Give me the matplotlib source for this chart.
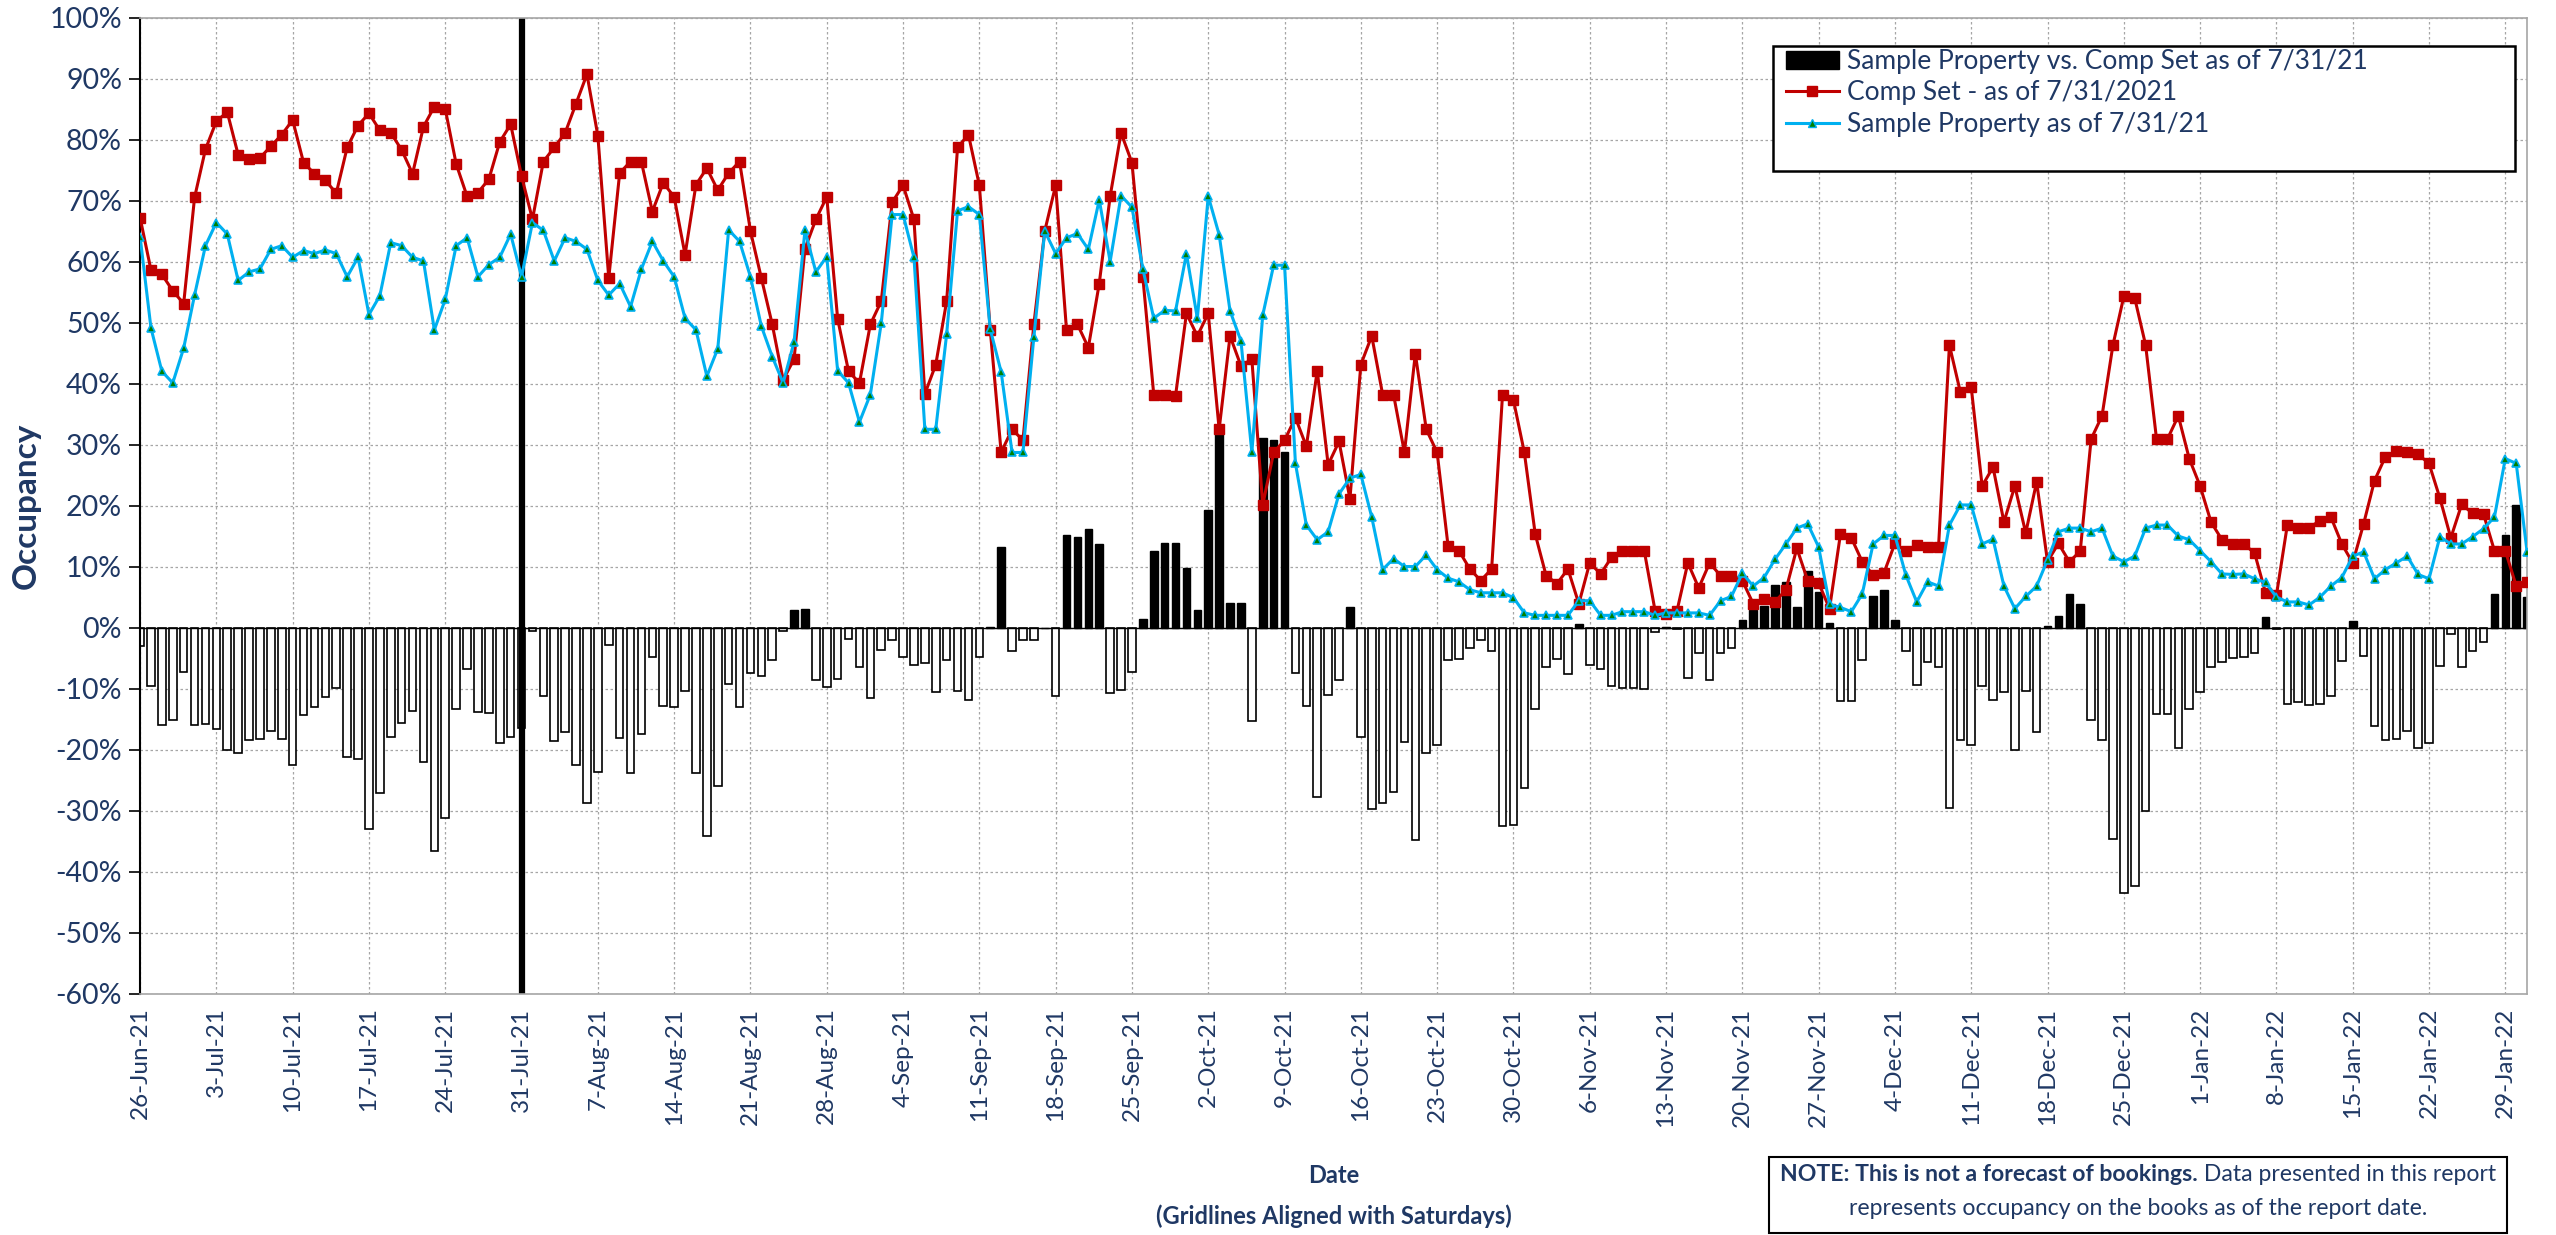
import numpy as np
import pandas as pd
import matplotlib
matplotlib.use("Agg")
import matplotlib.pyplot as plt
import matplotlib.dates as mdates
from matplotlib.patches import Patch, Rectangle
from matplotlib.lines import Line2D

plt.rcParams['font.family'] = ['Lato', 'DejaVu Sans']

# Dates (one point per day)
dates = pd.date_range('2021-06-26', '2022-01-31', freq='D')

# Comp Set occupancy (%)
comp_set = [
    67.2, 58.6, 57.9, 55.2, 53.1,
    # Jul
    70.5, 78.4, 83.0, 84.5, 77.5, 76.8, 77.0, 78.9, 80.8, 83.2, 76.2, 74.4, 73.3, 71.2, 78.7, 82.3,
    84.3, 81.5, 81.1, 78.3, 74.4, 82.1, 85.4, 85.0, 76.0, 70.7, 71.3, 73.5, 79.6, 82.5, 74.0,
    # Aug
    66.9, 76.4, 78.7, 81.1, 85.9, 90.7, 80.6, 57.3, 74.5, 76.4, 76.3, 68.2, 72.9, 70.6, 61.1, 72.6,
    75.3, 71.7, 74.5, 76.4, 65.0, 57.3, 49.7, 40.6, 44.0, 62.1, 66.9, 70.6, 50.6, 42.0, 40.1,
    # Sep
    49.7, 53.5, 69.7, 72.5, 66.9, 38.3, 43.1, 53.5, 78.7, 80.8, 72.5, 48.8, 28.7, 32.5, 30.7, 49.7,
    65.0, 72.5, 48.7, 49.7, 45.9, 56.4, 70.7, 81.1, 76.2, 57.4, 38.2, 38.2, 38.0, 51.5,
    # Oct
    47.8, 51.5, 32.5, 47.8, 42.9, 44.0, 20.1, 28.7, 30.7, 34.4, 29.7, 42.1, 26.7, 30.5, 21.1, 43.1,
    47.8, 38.2, 38.2, 28.7, 44.9, 32.5, 28.7, 13.4, 12.6, 9.6, 7.7, 9.6, 38.2, 37.3, 28.7,
    # Nov
    15.3, 8.5, 7.2, 9.6, 3.9, 10.6, 8.8, 11.5, 12.5, 12.5, 12.6, 2.7, 2.3, 2.7, 10.6, 6.5,
    10.6, 8.5, 8.5, 7.7, 3.9, 4.6, 4.2, 6.2, 13.0, 7.7, 7.3, 3.1, 15.3, 14.7,
    # Dec
    10.8, 8.6, 9.0, 13.8, 12.5, 13.6, 13.2, 13.2, 46.3, 38.6, 39.4, 23.2, 26.3, 17.3, 23.2, 15.5,
    23.9, 10.8, 13.8, 10.8, 12.5, 30.9, 34.7, 46.3, 54.3, 54.0, 46.3, 30.9, 30.9, 34.7, 27.7,
    # Jan
    23.2, 17.3, 14.4, 13.7, 13.7, 12.2, 5.7, 5.3, 16.8, 16.4, 16.4, 17.5, 18.1, 13.7, 10.6, 17.0,
    24.1, 28.0, 28.9, 28.7, 28.4, 26.9, 21.2, 14.7, 20.2, 18.7, 18.6, 12.6, 12.6, 6.8, 7.4,
]

# Sample Property occupancy (%)
sample_prop = [
    64.1, 49.1, 42.0, 40.1, 45.8,
    # Jul
    54.5, 62.6, 66.4, 64.5, 56.9, 58.3, 58.8, 62.0, 62.6, 60.7, 61.8, 61.3, 61.9, 61.3, 57.5, 60.7,
    51.3, 54.4, 63.1, 62.6, 60.7, 60.1, 48.8, 53.8, 62.6, 63.9, 57.5, 59.5, 60.7, 64.5, 57.5,
    # Aug
    66.4, 65.1, 60.1, 63.9, 63.3, 62.0, 56.9, 54.5, 56.4, 52.6, 58.8, 63.3, 60.1, 57.5, 50.7, 48.8,
    41.2, 45.7, 65.2, 63.3, 57.5, 49.4, 44.4, 40.1, 46.8, 65.1, 58.3, 60.8, 42.1, 40.1, 33.7,
    # Sep
    38.2, 49.9, 67.7, 67.7, 60.7, 32.5, 32.5, 48.1, 68.3, 69.0, 67.7, 48.9, 41.9, 28.7, 28.7, 47.6,
    65.0, 61.3, 63.9, 64.6, 62.0, 70.1, 60.0, 70.8, 68.9, 58.8, 50.7, 52.0, 51.9, 61.3,
    # Oct
    50.7, 70.7, 64.4, 51.9, 47.0, 28.7, 51.2, 59.4, 59.4, 26.9, 16.8, 14.4, 15.7, 21.9, 24.5, 25.1,
    18.1, 9.5, 11.3, 10.0, 10.0, 11.9, 9.5, 8.1, 7.5, 6.2, 5.7, 5.7, 5.7, 4.9, 2.4,
    # Nov
    2.0, 2.0, 2.0, 2.0, 4.4, 4.4, 2.0, 2.0, 2.6, 2.6, 2.6, 2.0, 2.4, 2.4, 2.4, 2.4,
    2.0, 4.4, 5.1, 8.9, 6.8, 8.2, 11.2, 13.7, 16.3, 17.0, 13.2, 3.8, 3.3, 2.6,
    # Dec
    5.5, 13.7, 15.1, 15.1, 8.6, 4.2, 7.5, 6.8, 16.8, 20.1, 20.1, 13.7, 14.5, 6.8, 3.1, 5.1,
    6.8, 11.1, 15.7, 16.3, 16.3, 15.7, 16.3, 11.7, 10.8, 11.7, 16.3, 16.8, 16.8, 15.0, 14.4,
    # Jan
    12.6, 10.8, 8.8, 8.7, 8.8, 8.0, 7.4, 5.0, 4.2, 4.2, 3.7, 5.0, 6.8, 8.2, 11.7, 12.4,
    8.0, 9.5, 10.6, 11.7, 8.7, 8.0, 14.9, 13.7, 13.7, 14.9, 16.2, 18.1, 27.7, 26.9, 12.4,
]

# bars = sample property minus comp set
diff = np.array(sample_prop) - np.array(comp_set)

report_date = pd.Timestamp('2021-07-31')

navy = '#1F3864'
red = '#C00000'
cyan = '#00B0F0'

fig = plt.figure(figsize=(25.56, 12.35), dpi=100)
ax = fig.add_axes([0.0548, 0.1955, 0.9339, 0.7903])

pos = diff >= 0
ax.bar(dates[pos], diff[pos], width=0.7, color='black', edgecolor='black', linewidth=1, zorder=2)
ax.bar(dates[~pos], diff[~pos], width=0.7, color='white', edgecolor='black', linewidth=1.2, zorder=2)
ax.axhline(0, color='black', lw=1, zorder=2.1)
ax.axvline(report_date, color='black', lw=4.5, zorder=2.5)

ax.plot(dates, comp_set, color=red, lw=2.2, marker='s', markersize=6.5,
        markerfacecolor=red, markeredgecolor=red, zorder=3)
ax.plot(dates, sample_prop, color=cyan, lw=2.2, marker='^', markersize=6,
        markerfacecolor='#008000', markeredgecolor=cyan, markeredgewidth=1.2, zorder=4)

ax.set_ylim(-60, 100)
ax.set_yticks(np.arange(-60, 101, 10))
ax.set_yticklabels([f'{v}%' for v in range(-60, 101, 10)], color=navy, fontsize=20.5)
ax.set_xlim(dates[0], dates[-1])
ax.xaxis.set_major_locator(mdates.WeekdayLocator(byweekday=mdates.SA))
ax.xaxis.set_major_formatter(mdates.DateFormatter('%-d-%b-%y'))
plt.setp(ax.get_xticklabels(), rotation=90, color=navy, fontsize=17.5)
ax.tick_params(axis='x', length=0, pad=10)
ax.tick_params(axis='y', length=8, width=1.2, direction='out', pad=5)

ax.grid(True, color='#A6A6A6', linestyle=(0, (2, 2)), lw=0.9, zorder=0)
ax.set_axisbelow(True)
for s in ['top', 'right', 'bottom']:
    ax.spines[s].set_color('#A6A6A6')
    ax.spines[s].set_linewidth(1.2)
ax.spines['left'].set_color('black')
ax.spines['left'].set_linewidth(1.5)

ax.set_ylabel('Occupancy', color=navy, fontsize=24, fontweight='bold', labelpad=6)
fig.text(0.5217, 0.0316, 'Date\n(Gridlines Aligned with Saturdays)', ha='center', va='center',
         color=navy, fontsize=17, fontweight='bold', linespacing=1.85)

# legend with its own frame (extra room on the right like the original)
fig.patches.append(Rectangle((0.6937, 0.8615), 0.2903, 0.1012, transform=fig.transFigure,
                             facecolor='white', edgecolor='black', lw=1.8, zorder=5))
handles = [Patch(facecolor='black', edgecolor='black'),
           Line2D([], [], color=red, lw=2.2, marker='s', markersize=6.5),
           Line2D([], [], color=cyan, lw=2.2, marker='^', markersize=6,
                  markerfacecolor='#008000', markeredgecolor=cyan)]
labels = ['Sample Property vs. Comp Set as of 7/31/21', 'Comp Set - as of 7/31/2021',
          'Sample Property as of 7/31/21']
leg = fig.legend(handles, labels, loc='center left', bbox_to_anchor=(1786 / 2556, 1 - 93 / 1235),
                 fontsize=19, frameon=False, handlelength=2.0, handletextpad=0.3,
                 borderpad=0, labelspacing=0.24, borderaxespad=0)
leg.set_zorder(6)
for t in leg.get_texts():
    t.set_color(navy)

# note box
fig.patches.append(Rectangle((0.6921, 0.002), 0.2887, 0.0612, transform=fig.transFigure,
                             facecolor='white', edgecolor='black', lw=1.5))
renderer = fig.canvas.get_renderer()
tb = fig.text(0, 0.049, 'NOTE: This is not a forecast of bookings.', fontsize=16.6,
              fontweight='bold', color=navy, va='center', ha='left')
tn = fig.text(0, 0.049, ' Data presented in this report', fontsize=16.6,
              color=navy, va='center', ha='left')
wb = tb.get_window_extent(renderer).width / fig.bbox.width
wn = tn.get_window_extent(renderer).width / fig.bbox.width
xc = 0.6921 + 0.2887 / 2
tb.set_x(xc - (wb + wn) / 2)
tn.set_x(xc - (wb + wn) / 2 + wb)
fig.text(xc, 0.0215, 'represents occupancy on the books as of the report date.', fontsize=16.6,
         color=navy, va='center', ha='center')

fig.savefig('out.png', dpi=100)
